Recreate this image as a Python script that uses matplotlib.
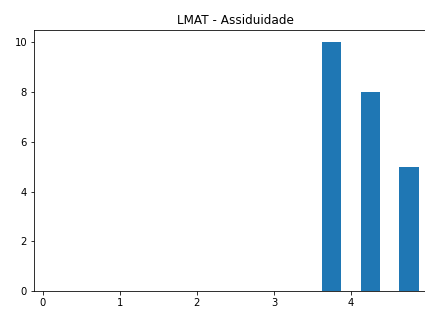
import matplotlib
matplotlib.use("Agg")
import matplotlib.pyplot as plt

# centros das classes e frequências
centros = [0.25, 0.75, 1.25, 1.75, 2.25, 2.75, 3.25, 3.75, 4.25, 4.75]
freq = [0, 0, 0, 0, 0, 0, 0, 10, 8, 5]
titulo = "LMAT - Assiduidade"

fig = plt.figure(figsize=(425 / 72, 309 / 72), dpi=72)
ax = fig.add_axes([0.08, 0.058, 0.948, 0.845])
ax.bar(centros, freq, width=0.25, color="#1f77b4")
ax.set_title(titulo)
ax.set_xticks([0, 1, 2, 3, 4, 5])
ax.set_yticks([0, 2, 4, 6, 8, 10])

fig.savefig("out.png", dpi=72)
